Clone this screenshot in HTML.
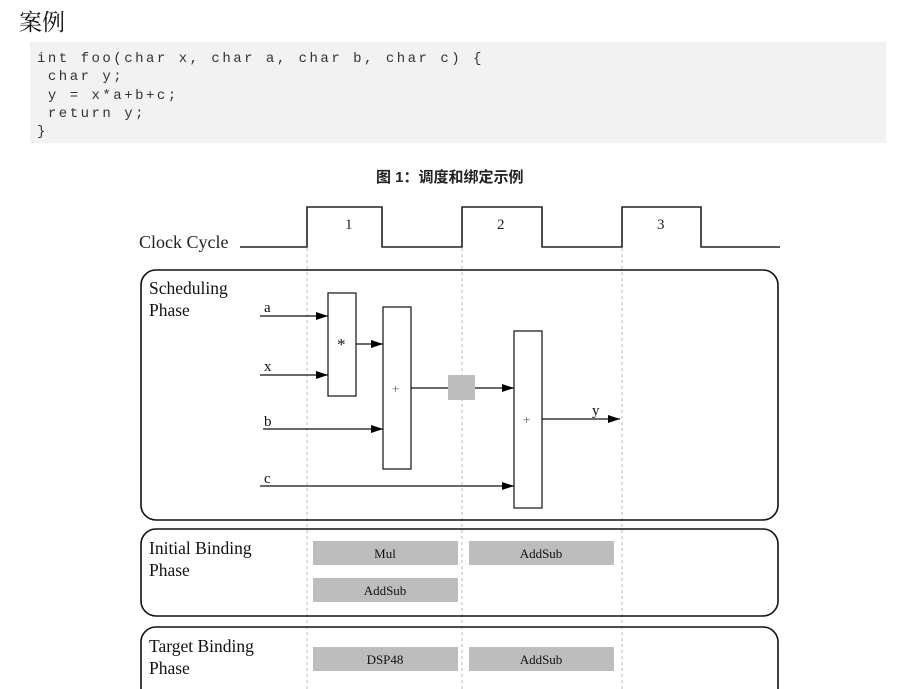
<!DOCTYPE html>
<html><head><meta charset="utf-8"><style>
body{margin:0;width:917px;height:689px;background:#fff;overflow:hidden;position:relative;font-family:"Liberation Sans","Noto Sans CJK SC",sans-serif}
#t{position:absolute;left:19px;top:4px;font-size:23px;font-family:"Liberation Serif","Noto Serif CJK SC",serif;color:#111}
#code{position:absolute;left:30px;top:42px;width:856px;height:101px;background:#f2f2f2}
#code pre{margin:0;position:absolute;left:7px;top:8px;font-family:"Liberation Mono",monospace;font-size:14px;line-height:18.3px;letter-spacing:2.5px;color:#333}
#cap{position:absolute;left:376px;top:166px;font-size:15px;font-weight:bold;color:#222}
svg{position:absolute;left:0;top:0}
</style></head><body>
<div id="t">案例</div>
<div id="code"><pre>int foo(char x, char a, char b, char c) {
 char y;
 y = x*a+b+c;
 return y;
}</pre></div>
<div id="cap">图 1：调度和绑定示例</div>
<svg width="917" height="689" font-family="Liberation Serif,serif">
<defs><marker id="ar" markerWidth="12" markerHeight="8" refX="12" refY="4" orient="auto" markerUnits="userSpaceOnUse"><path d="M0,0L12,4L0,8z" fill="#000"/></marker></defs>
<g stroke="#bbb" stroke-dasharray="3,3" stroke-width="1">
<line x1="307" y1="248" x2="307" y2="689"/><line x1="462" y1="248" x2="462" y2="689"/><line x1="622" y1="248" x2="622" y2="689"/></g>
<polyline points="240,247 307,247 307,207 382,207 382,247 462,247 462,207 542,207 542,247 622,247 622,207 701,207 701,247 780,247" fill="none" stroke="#222" stroke-width="1.6"/>
<g font-size="15" fill="#222"><text x="139" y="248" font-size="18">Clock Cycle</text>
<text x="345" y="229">1</text><text x="497" y="229">2</text><text x="657" y="229">3</text></g>
<g fill="none" stroke="#111" stroke-width="1.6">
<rect x="141" y="270" width="637" height="250" rx="15"/>
<rect x="141" y="529" width="637" height="87" rx="15"/>
<rect x="141" y="627" width="637" height="80" rx="15"/></g>
<g font-size="17.5" fill="#111"><text x="149" y="294">Scheduling</text><text x="149" y="316">Phase</text>
<text x="149" y="554">Initial Binding</text><text x="149" y="576">Phase</text>
<text x="149" y="652">Target Binding</text><text x="149" y="674">Phase</text></g>
<g fill="#fff" stroke="#222" stroke-width="1.3">
<rect x="328" y="293" width="28" height="103"/><rect x="383" y="307" width="28" height="162"/><rect x="514" y="331" width="28" height="177"/></g>
<rect x="448" y="375" width="27" height="25" fill="#bdbdbd"/>
<g stroke="#111" stroke-width="1.2" marker-end="url(#ar)">
<line x1="260" y1="316" x2="328" y2="316"/><line x1="260" y1="375" x2="328" y2="375"/>
<line x1="356" y1="344" x2="383" y2="344"/><line x1="263" y1="429" x2="383" y2="429"/>
<line x1="475" y1="388" x2="514" y2="388"/><line x1="260" y1="486" x2="514" y2="486"/>
<line x1="542" y1="419" x2="620" y2="419"/></g>
<line x1="411" y1="388" x2="448" y2="388" stroke="#111" stroke-width="1.2"/>
<g font-size="15" fill="#111"><text x="264" y="312">a</text><text x="264" y="371">x</text><text x="264" y="426">b</text><text x="264" y="483">c</text><text x="592" y="415">y</text>
<text x="337" y="350" font-size="17">*</text><text x="392" y="393" font-size="13" fill="#555">+</text><text x="523" y="424" font-size="13" fill="#555">+</text></g>
<g fill="#bdbdbd"><rect x="313" y="541" width="145" height="24"/><rect x="469" y="541" width="145" height="24"/><rect x="313" y="578" width="145" height="24"/>
<rect x="313" y="647" width="145" height="24"/><rect x="469" y="647" width="145" height="24"/></g>
<g font-size="13" fill="#111" text-anchor="middle"><text x="385" y="558">Mul</text><text x="541" y="558">AddSub</text><text x="385" y="595">AddSub</text>
<text x="385" y="664">DSP48</text><text x="541" y="664">AddSub</text></g>
</svg>
</body></html>
